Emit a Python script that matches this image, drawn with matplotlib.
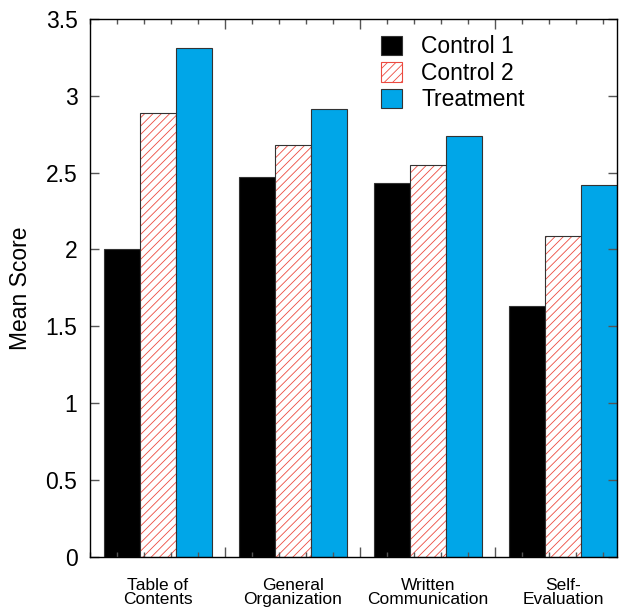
import matplotlib
matplotlib.use("Agg")
import matplotlib.pyplot as plt
from matplotlib.ticker import MultipleLocator, FixedLocator
from matplotlib.patches import Patch
import numpy as np

plt.rcParams["font.family"] = ["Liberation Sans", "DejaVu Sans"]
plt.rcParams["hatch.linewidth"] = 0.6

CATEGORIES = ["Table of\nContents", "General\nOrganization", "Written\nCommunication", "Self-\nEvaluation"]
CONTROL1 = [2.00, 2.47, 2.43, 1.63]
CONTROL2 = [2.89, 2.68, 2.55, 2.09]
TREATMENT = [3.31, 2.91, 2.74, 2.42]

BLUE = "#00a6e8"
RED = "#ec4a40"
EDGE = "#333333"

fig = plt.figure(figsize=(6.24, 6.13), dpi=100)
ax = fig.add_axes([90 / 624, 1 - 557 / 613, 527 / 624, 538.3 / 613])

x = np.arange(len(CATEGORIES)) + 0.5
w = 0.8 / 3

ax.bar(x - w, CONTROL1, w, color="black", edgecolor=EDGE, linewidth=0.8)
# hatch drawn in red, outline on top in dark grey
ax.bar(x, CONTROL2, w, color="white", edgecolor=RED, hatch="////", linewidth=0)
ax.bar(x, CONTROL2, w, fill=False, edgecolor=EDGE, linewidth=0.8)
ax.bar(x + w, TREATMENT, w, color=BLUE, edgecolor=EDGE, linewidth=0.8)

ax.set_xlim(0, 3.9)
ax.set_ylim(0, 3.5)
ax.set_yticks(np.arange(0, 3.51, 0.5))
ax.set_yticklabels(["0", "0.5", "1", "1.5", "2", "2.5", "3", "3.5"])
ax.xaxis.set_major_locator(FixedLocator([1, 2, 3]))
ax.xaxis.set_minor_locator(MultipleLocator(0.2))

ax.tick_params(axis="x", which="both", direction="in", top=True, bottom=True,
               labelbottom=False, color="#555555", width=1)
ax.tick_params(axis="x", which="major", length=7.5)
ax.tick_params(axis="x", which="minor", length=3.5)
ax.tick_params(axis="y", which="major", direction="in", left=True, right=True,
               length=6.5, width=1, color="#555555", labelsize=16.5, pad=9)

for s in ax.spines.values():
    s.set_linewidth(1.0)
    s.set_color("black")

secax = ax.secondary_xaxis("bottom")
secax.set_xticks(x, CATEGORIES)
secax.tick_params(length=0, pad=15, labelsize=12.5)
secax.spines["bottom"].set_visible(False)
for lab in secax.get_xticklabels():
    lab.set_linespacing(0.95)

ax.set_ylabel("Mean Score", fontsize=16.5, labelpad=10)

handles = [
    Patch(facecolor="black", edgecolor=EDGE, linewidth=0.8, label="Control 1"),
    Patch(facecolor="white", edgecolor=RED, hatch="////", linewidth=0.8, label="Control 2"),
    Patch(facecolor=BLUE, edgecolor=EDGE, linewidth=0.8, label="Treatment"),
]
ax.legend(handles=handles, loc="upper left", bbox_to_anchor=(0.552, 0.969),
          frameon=False, fontsize=16.5, borderpad=0, borderaxespad=0,
          handlelength=0.9, handleheight=0.95, handletextpad=0.85, labelspacing=0.15)

fig.savefig("out.png", dpi=100)
